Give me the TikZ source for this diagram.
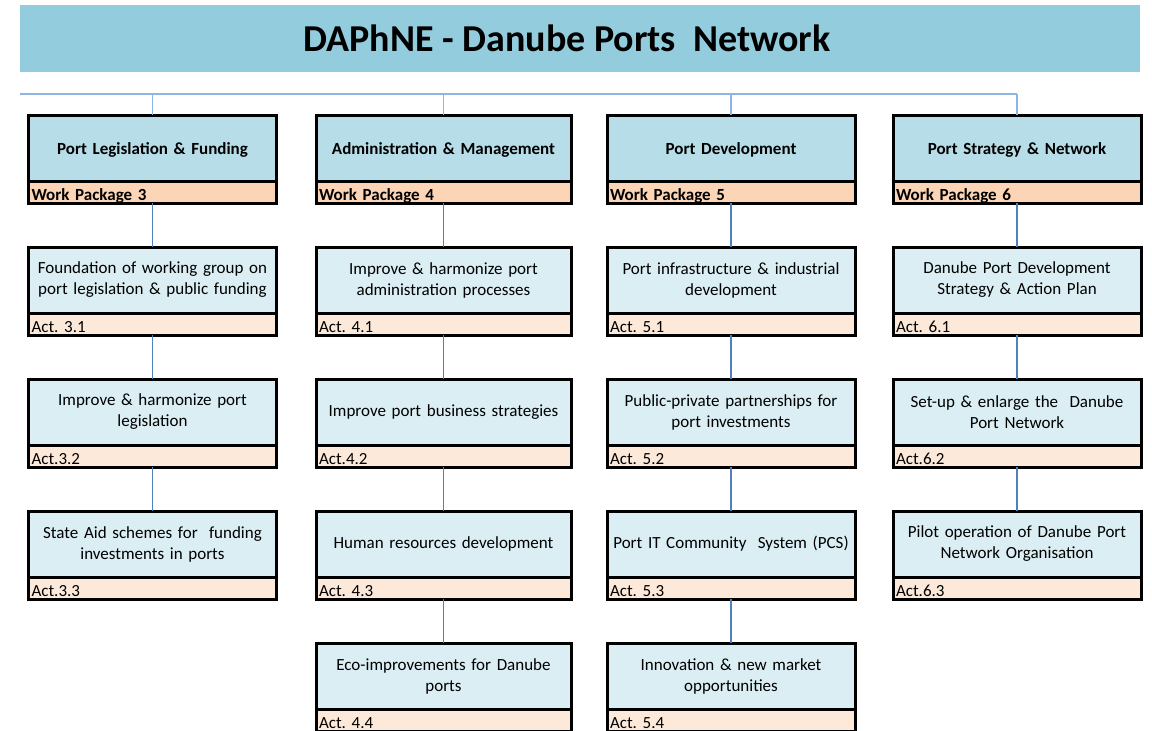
\documentclass[tikz,border=0pt]{standalone}
\usepackage{fontspec}
\setmainfont{Carlito}
\usetikzlibrary{positioning}
\definecolor{titleblue}{HTML}{93CDDD}
\definecolor{wpblue}{HTML}{B7DEE8}
\definecolor{wporange}{HTML}{FBD5B5}
\definecolor{actblue}{HTML}{DAEEF3}
\definecolor{actorange}{HTML}{FDE9D9}
\definecolor{linkblue}{HTML}{4F81BD}
\definecolor{busblue}{HTML}{8EB4E3}
\frenchspacing

\begin{document}
\begin{tikzpicture}[x=1pt, y=-1pt]
        \tikzstyle{every node}=[outer sep=0pt, line width=3pt, inner xsep=3pt, inner ysep=1pt, font=\fontsize{17}{21}\selectfont]
        \tikzstyle{titlebar}=[fill=titleblue, minimum width=1120pt, minimum height=67pt, font=\bfseries\fontsize{38}{42}\selectfont]
        \tikzstyle{wpbox}=[draw, fill=wpblue, minimum height=66pt, align=center, text height=14pt, text depth=2pt, font=\bfseries\fontsize{17}{21}\selectfont]
        \tikzstyle{wpstrip}=[draw, fill=wporange, minimum height=22pt, align=left, text height=17pt, text depth=0pt, font=\bfseries\fontsize{17}{18}\selectfont]
        \tikzstyle{actbox}=[draw, fill=actblue, minimum height=66pt, align=center]
        \tikzstyle{actstrip}=[draw, fill=actorange, minimum height=22pt, align=left, text height=17pt, text depth=0pt, font=\fontsize{17}{18}\selectfont]
        \tikzstyle{colA}=[minimum width=248pt, text width=242pt]
        \tikzstyle{colB}=[minimum width=255pt, text width=249pt]
        \tikzstyle{colC}=[minimum width=248pt, text width=242pt]
        \tikzstyle{colD}=[minimum width=248pt, text width=242pt]
        \tikzstyle{link}=[draw=linkblue, line width=1.5pt]
        \tikzstyle{bus}=[draw=busblue, line width=1.5pt]
        \useasboundingbox (0,0) rectangle (1152,731);
        \node (title) [titlebar] at (580,38.5) {\hspace*{-26pt}DAPhNE - Danube Ports\ \ Network};
        % work package 3
        \node (wp3) [wpbox, colA, anchor=north] at (152.5,115) {Port Legislation \& Funding};
        \node (wp3l) [wpstrip, colA, below=0pt of wp3] {Work Package 3};
        \node (a31) [actbox, colA, below=44pt of wp3l] {Foundation of working group on\\port legislation \& public funding};
        \node (a31l) [actstrip, colA, below=0pt of a31] {Act. 3.1};
        \node (a32) [actbox, colA, below=44pt of a31l] {Improve \& harmonize port\\legislation};
        \node (a32l) [actstrip, colA, below=0pt of a32] {Act.3.2};
        \node (a33) [actbox, colA, below=44pt of a32l] {State Aid schemes for\ \ funding\\investments in ports};
        \node (a33l) [actstrip, colA, below=0pt of a33] {Act.3.3};
        % work package 4
        \node (wp4) [wpbox, colB, anchor=north] at (443.5,115) {Administration \& Management};
        \node (wp4l) [wpstrip, colB, below=0pt of wp4] {Work Package 4};
        \node (a41) [actbox, colB, below=44pt of wp4l] {Improve \& harmonize port\\administration processes};
        \node (a41l) [actstrip, colB, below=0pt of a41] {Act. 4.1};
        \node (a42) [actbox, colB, below=44pt of a41l] {Improve port business strategies};
        \node (a42l) [actstrip, colB, below=0pt of a42] {Act.4.2};
        \node (a43) [actbox, colB, below=44pt of a42l] {Human resources development};
        \node (a43l) [actstrip, colB, below=0pt of a43] {Act. 4.3};
        \node (a44) [actbox, colB, below=44pt of a43l] {Eco-improvements for Danube\\ports};
        \node (a44l) [actstrip, colB, below=0pt of a44] {Act. 4.4};
        % work package 5
        \node (wp5) [wpbox, colC, anchor=north] at (731,115) {Port Development};
        \node (wp5l) [wpstrip, colC, below=0pt of wp5] {Work Package 5};
        \node (a51) [actbox, colC, below=44pt of wp5l] {Port infrastructure \& industrial\\development};
        \node (a51l) [actstrip, colC, below=0pt of a51] {Act. 5.1};
        \node (a52) [actbox, colC, below=44pt of a51l] {Public-private partnerships for\\port investments};
        \node (a52l) [actstrip, colC, below=0pt of a52] {Act. 5.2};
        \node (a53) [actbox, colC, below=44pt of a52l] {Port IT Community\ \ System (PCS)};
        \node (a53l) [actstrip, colC, below=0pt of a53] {Act. 5.3};
        \node (a54) [actbox, colC, below=44pt of a53l] {Innovation \& new market\\opportunities};
        \node (a54l) [actstrip, colC, below=0pt of a54] {Act. 5.4};
        % work package 6
        \node (wp6) [wpbox, colD, anchor=north] at (1017,115) {Port Strategy \& Network};
        \node (wp6l) [wpstrip, colD, below=0pt of wp6] {Work Package 6};
        \node (a61) [actbox, colD, below=44pt of wp6l] {Danube Port Development\\Strategy \& Action Plan};
        \node (a61l) [actstrip, colD, below=0pt of a61] {Act. 6.1};
        \node (a62) [actbox, colD, below=44pt of a61l] {Set-up \& enlarge the\ \ Danube\\Port Network};
        \node (a62l) [actstrip, colD, below=0pt of a62] {Act.6.2};
        \node (a63) [actbox, colD, below=44pt of a62l] {Pilot operation of Danube Port\\Network Organisation};
        \node (a63l) [actstrip, colD, below=0pt of a63] {Act.6.3};
        % connectors
        \coordinate (busL) at (20,94);
        \draw[bus] (busL) -- (busL -| wp6.north);
        \draw[bus] (busL -| wp3.north) -- (wp3.north);
        \draw[bus] (busL -| wp4.north) -- (wp4.north);
        \draw[bus] (busL -| wp5.north) -- (wp5.north);
        \draw[bus] (busL -| wp6.north) -- (wp6.north);
        \draw[link] (wp3l) -- (a31);
        \draw[link] (a31l) -- (a32);
        \draw[link] (a32l) -- (a33);
        \draw[link] (wp4l) -- (a41);
        \draw[link] (a41l) -- (a42);
        \draw[link] (a42l) -- (a43);
        \draw[link] (a43l) -- (a44);
        \draw[link] (wp5l) -- (a51);
        \draw[link] (a51l) -- (a52);
        \draw[link] (a52l) -- (a53);
        \draw[link] (a53l) -- (a54);
        \draw[link] (wp6l) -- (a61);
        \draw[link] (a61l) -- (a62);
        \draw[link] (a62l) -- (a63);
    \end{tikzpicture}
\end{document}
